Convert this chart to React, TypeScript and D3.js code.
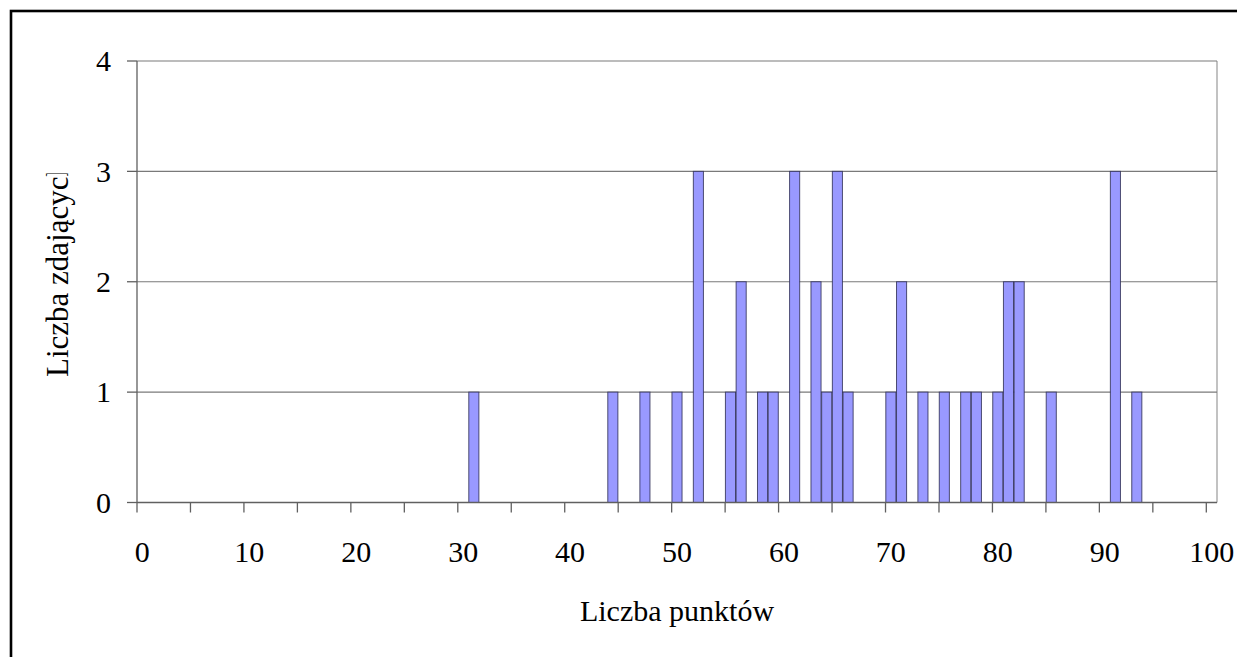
import React from "react";
import * as d3 from "d3";

const categories: number[] = d3.range(0, 101);
const barPoints: number[] = [31, 44, 47, 50, 52, 55, 56, 58, 59, 61, 63, 64, 65, 66, 70, 71, 73, 75, 77, 78, 80, 81, 82, 85, 91, 93];
const barCounts: number[] = [1, 1, 1, 1, 3, 1, 2, 1, 1, 3, 2, 1, 3, 1, 1, 2, 1, 1, 1, 1, 1, 2, 2, 1, 3, 1];
const yTicks: number[] = [0, 1, 2, 3, 4];
const xTickMarks: number[] = d3.range(0, 101, 5);
const xLabels: number[] = d3.range(0, 101, 10);
const xTitle = "Liczba punktów";
const yTitle = "Liczba zdających";

const W = 1237;
const H = 657;
const left = 137;
const right = 1217;
const top = 61;
const bottom = 502.5;
const FONT = "'Liberation Serif', 'Times New Roman', serif";

export default function App() {
  const x = d3.scaleBand<number>().domain(categories).range([left, right]).paddingInner(0).paddingOuter(0);
  const y = d3.scaleLinear().domain([0, 4]).range([bottom, top]);
  const bw = x.bandwidth();
  const data = barPoints.map((p, i) => ({ p, c: barCounts[i] }));
  const gray = "#7a7a7a";
  const axisCol = "#606060";

  return (
    <div style={{ position: "absolute", left: 0, top: 0 }}>
      <svg width={W} height={H} style={{ display: "block", background: "#fff" }}>
        <defs>
          <clipPath id="ytclip">
            <rect x={0} y={173.5} width={130} height={400} />
          </clipPath>
        </defs>
        <rect x={0} y={0} width={W} height={H} fill="#fff" />
        <rect x={11} y={11} width={1240} height={670} fill="none" stroke="#000" strokeWidth={2.6} />
        {/* plot area border (right) */}
        <line x1={right} x2={right} y1={top} y2={bottom} stroke="#999" strokeWidth={1.2} />
        {/* gridlines */}
        {yTicks.filter((t) => t > 0).map((t) => (
          <line key={"g" + t} x1={left} x2={right} y1={y(t)} y2={y(t)} stroke={gray} strokeWidth={1.2} />
        ))}
        {/* bars */}
        {data.map((d) => (
          <rect
            key={"b" + d.p}
            x={(x(d.p) as number) + 0.3}
            y={y(d.c)}
            width={bw - 0.6}
            height={y(0) - y(d.c)}
            fill="#9999ff"
            stroke="#2a2a50"
            strokeOpacity={0.8}
            strokeWidth={1}
          />
        ))}
        {/* y axis */}
        <line x1={left} x2={left} y1={top} y2={bottom} stroke={axisCol} strokeWidth={1.3} />
        {yTicks.map((t) => (
          <g key={"yt" + t}>
            <line x1={left - 10} x2={left} y1={y(t)} y2={y(t)} stroke={axisCol} strokeWidth={1.3} />
            <text
              x={111}
              y={y(t)}
              dy="0.34em"
              textAnchor="end"
              fontFamily={FONT}
              fontSize={30}
              fill="#000"
            >
              {t}
            </text>
          </g>
        ))}
        {/* x axis */}
        <line x1={left} x2={right} y1={bottom} y2={bottom} stroke={axisCol} strokeWidth={1.3} />
        {xTickMarks.map((k) => (
          <line
            key={"xt" + k}
            x1={x(k) as number}
            x2={x(k) as number}
            y1={bottom}
            y2={bottom + 10}
            stroke={axisCol}
            strokeWidth={1.3}
          />
        ))}
        {xLabels.map((k) => (
          <text
            key={"xl" + k}
            x={(x(k) as number) + bw / 2}
            y={562}
            textAnchor="middle"
            fontFamily={FONT}
            fontSize={30}
            fill="#000"
          >
            {k}
          </text>
        ))}
        <text x={(left + right) / 2} y={621} textAnchor="middle" fontFamily={FONT} fontSize={30} fill="#000">
          {xTitle}
        </text>
        <g clipPath="url(#ytclip)">
          <text
            transform={`translate(68, 377) rotate(-90)`}
            textAnchor="start"
            fontFamily={FONT}
            fontSize={31}
            fill="#000"
          >
            {yTitle}
          </text>
        </g>
      </svg>
    </div>
  );
}
